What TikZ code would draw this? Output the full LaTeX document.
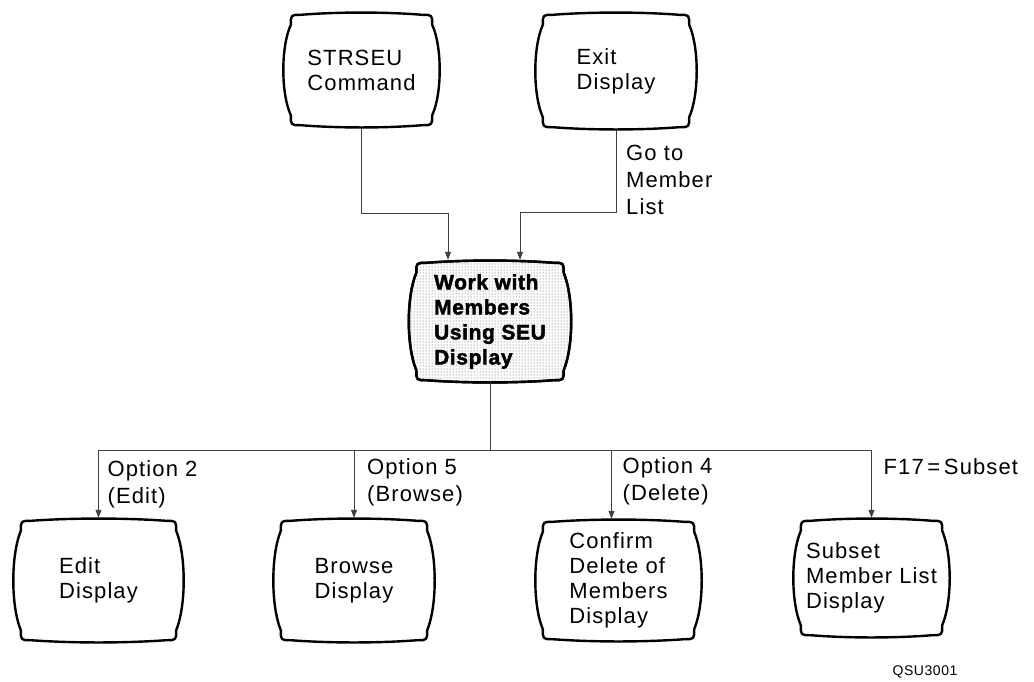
\documentclass[tikz,border=0pt]{standalone}
\usepackage{fontspec}
\setmainfont{Liberation Sans}
\newfontfamily\tvregular[LetterSpace=5]{Liberation Sans}
\newfontfamily\tvbold[LetterSpace=3,FakeBold=2]{Liberation Sans Bold}
\newfontfamily\tvsmall[LetterSpace=4]{Liberation Sans}
\usetikzlibrary{calc,arrows.meta,patterns,backgrounds}
\newcommand\tvoutline[2][]{%
 \draw[tvline,#1] ([xshift=18pt,yshift=-3pt]#2.north west)
  .. controls ($(#2.north west)!0.35!(#2.north east)$) and ($(#2.north west)!0.65!(#2.north east)$) .. ([xshift=-18pt,yshift=-3pt]#2.north east)
  .. controls ([xshift=-8pt,yshift=-3pt]#2.north east) .. ([xshift=-8pt,yshift=-13pt]#2.north east)
  .. controls ([xshift=2pt]$(#2.north east)!0.3!(#2.south east)$) and ([xshift=2pt]$(#2.north east)!0.7!(#2.south east)$) .. ([xshift=-8pt,yshift=13pt]#2.south east)
  .. controls ([xshift=-8pt,yshift=3pt]#2.south east) .. ([xshift=-18pt,yshift=3pt]#2.south east)
  .. controls ($(#2.south east)!0.35!(#2.south west)$) and ($(#2.south east)!0.65!(#2.south west)$) .. ([xshift=18pt,yshift=3pt]#2.south west)
  .. controls ([xshift=8pt,yshift=3pt]#2.south west) .. ([xshift=8pt,yshift=13pt]#2.south west)
  .. controls ([xshift=-2pt]$(#2.south west)!0.3!(#2.north west)$) and ([xshift=-2pt]$(#2.south west)!0.7!(#2.north west)$) .. ([xshift=8pt,yshift=-13pt]#2.north west)
  .. controls ([xshift=8pt,yshift=-3pt]#2.north west) .. ([xshift=18pt,yshift=-3pt]#2.north west) -- cycle;}
\tikzset{
  tv/.style={inner sep=0pt, align=left, font=\tvregular\fontsize{22}{25}\selectfont},
  tvbf/.style={inner sep=0pt, align=left, font=\tvbold\fontsize{21}{25}\selectfont},
  tvline/.style={draw=black, line width=2.4pt, line join=round},
  conn/.style={draw=black!75, line width=0.8pt},
  arr/.style={conn, -{Triangle[length=8pt,width=6pt]}},
  lbl/.style={inner sep=0pt, align=left, anchor=north west, font=\tvregular\fontsize{22}{27}\selectfont},
}
\begin{document}
\begin{tikzpicture}[x=1pt,y=-1pt]
\useasboundingbox (0,0) rectangle (1034,681);
% nodes
\node[tv, minimum width=157pt, minimum height=116pt] (strseu) at (361.5,70) {STRSEU\\Command};
\node[tv, minimum width=162pt, minimum height=118pt] (exit) at (616,71) {Exit\\Display};
\node[tvbf, minimum width=163pt, minimum height=123pt] (work) at (490,321.5) {Work with\\Members\\Using SEU\\Display};
\node[tv, minimum width=171pt, minimum height=125pt] (edit) at (98.5,580.5) {Edit\\Display};
\node[tv, minimum width=162pt, minimum height=125pt] (browse) at (354,580.5) {Browse\\Display};
\node[tv, minimum width=167pt, minimum height=123pt] (confirm) at (618.5,580.5) {Confirm\\Delete of\\Members\\Display};
\node[tv, minimum width=157pt, minimum height=120pt] (subset) at (871.5,578) {Subset\\Member List\\Display};
% outlines
\begin{pgfonlayer}{background}
\tvoutline[preaction={fill=white}, pattern=dots, pattern color=black!70]{work}
\end{pgfonlayer}
\tvoutline{strseu}
\tvoutline{exit}
\tvoutline{work}
\tvoutline{edit}
\tvoutline{browse}
\tvoutline{confirm}
\tvoutline{subset}
% connectors to center
\draw[arr] (strseu.south) -- ++(0,85) -| ([xshift=-42pt]work.north);
\draw[arr] (exit.south) -- ++(0,82) -| ([xshift=30pt]work.north);
\node[lbl] (goto) at ($(exit.south)+(10,15)$) {Go to\\Member\\List};
% bus
\coordinate (bus) at ($(work.south)+(0,67)$);
\draw[conn] (work.south) -- (bus);
\draw[conn] (bus -| edit.north) -- (bus -| subset.north);
\draw[arr] (bus -| edit.north) -- (edit.north);
\draw[arr] (bus -| browse.north) -- (browse.north);
\draw[arr] (bus -| {$(confirm.north)+(-7,0)$}) -- ([xshift=-7pt]confirm.north);
\draw[arr] (bus -| subset.north) -- (subset.north);
\node[lbl] (l2) at ($(bus -| edit.north)+(9,10)$) {Option 2\\(Edit)};
\node[lbl] (l5) at ($(bus -| browse.north)+(13,8)$) {Option 5\\(Browse)};
\node[lbl] (l4) at ($(bus -| confirm.north)+(4,7)$) {Option 4\\(Delete)};
\node[lbl] (l17) at ($(bus -| subset.north)+(12,8)$) {F17\,=\,Subset};
\node[inner sep=0pt, font=\tvsmall\fontsize{14}{16}\selectfont] (code) at (925,672) {QSU3001};
\end{tikzpicture}
\end{document}
